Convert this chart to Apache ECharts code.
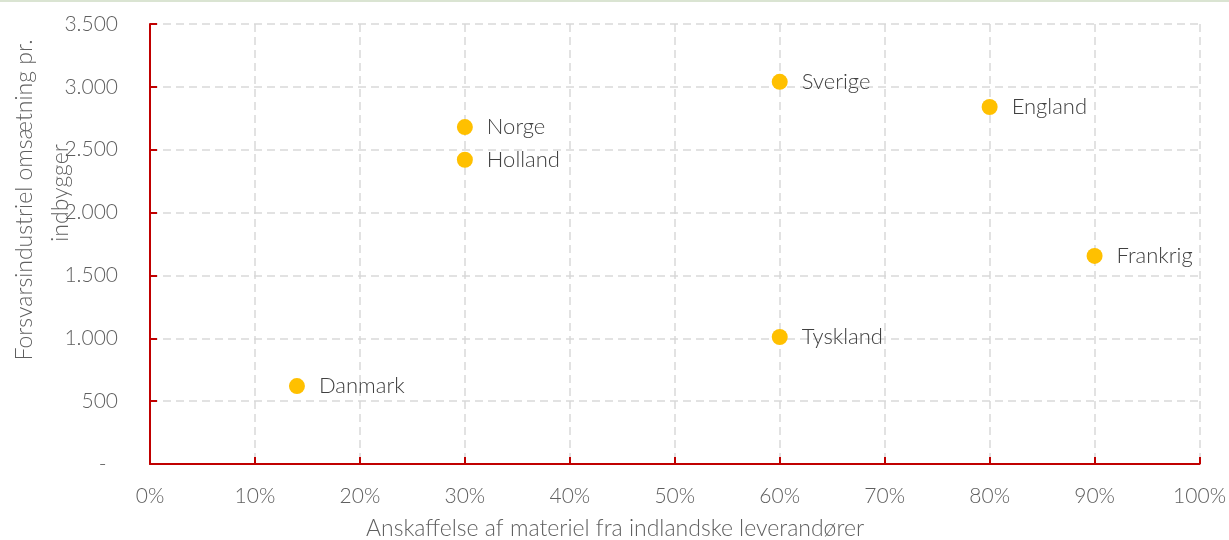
<!DOCTYPE html>
<html><head><meta charset="utf-8">
<script src="https://cdn.jsdelivr.net/npm/echarts@6/dist/echarts.min.js"></script>
<style>html,body{margin:0;padding:0;background:#fff}#c{width:1229px;height:540px;box-sizing:border-box;border-top:2px solid #dae4d2}</style>
</head><body><div id="c"></div>
<script>
const countries = ['Danmark','Norge','Holland','Sverige','England','Frankrig','Tyskland'];
const shareDomestic = [0.14, 0.30, 0.30, 0.60, 0.80, 0.90, 0.60];
const revenuePerCapita = [620, 2680, 2420, 3040, 2840, 1655, 1010];
const xTitle = 'Anskaffelse af materiel fra indlandske leverandører';
const yTitleLines = ['Forsvarsindustriel omsætning pr.', 'indbygger'];

const font = 'Lato';
const chart = echarts.init(document.getElementById('c'));
const red = '#c00000';
const grey = '#5f5f5f';
chart.setOption({
  animation: false,
  grid: {left: 150, right: 29, top: 22, bottom: 76},
  xAxis: {
    type: 'value', min: 0, max: 1, interval: 0.1,
    axisLine: {lineStyle: {color: red, width: 2}},
    axisTick: {show: true, inside: true, length: 7, lineStyle: {color: red, width: 2}},
    splitLine: {lineStyle: {color: '#d9d9d9', type: [8, 5], width: 1.5}},
    axisLabel: {formatter: v => Math.round(v * 100) + '%', color: grey, fontSize: 21, fontFamily: font, fontWeight: 300, margin: 22}
  },
  yAxis: {
    type: 'value', min: 0, max: 3500, interval: 500,
    axisLine: {show: true, lineStyle: {color: red, width: 2}},
    axisTick: {show: true, inside: true, length: 7, lineStyle: {color: red, width: 2}},
    splitLine: {lineStyle: {color: '#d9d9d9', type: [8, 5], width: 1.5}},
    axisLabel: {formatter: v => v === 0 ? '-  ' : v.toLocaleString('da-DK').replace(/\u00a0/g, '.'), color: grey, fontSize: 21, fontFamily: font, fontWeight: 300, margin: 32}
  },
  graphic: [
    {type: 'text', x: 25, y: 198, rotation: Math.PI / 2, style: {text: yTitleLines[0], fill: grey, font: '300 23px ' + font, textAlign: 'center', textVerticalAlign: 'middle'}},
    {type: 'text', x: 61, y: 191, rotation: Math.PI / 2, style: {text: yTitleLines[1], fill: grey, font: '300 23px ' + font, textAlign: 'center', textVerticalAlign: 'middle'}},
    {type: 'text', x: 615, y: 527, style: {text: xTitle, fill: grey, font: '300 23px ' + font, textAlign: 'center', textVerticalAlign: 'middle'}}
  ],
  series: [{
    type: 'scatter',
    symbolSize: 16,
    itemStyle: {color: '#ffc000', opacity: 1},
    data: countries.map((c, i) => ({name: c, value: [shareDomestic[i], revenuePerCapita[i]]})),
    label: {show: true, position: 'right', distance: 14, formatter: p => p.name, color: '#404040', fontSize: 22, fontFamily: font, fontWeight: 300}
  }]
});
</script></body></html>
